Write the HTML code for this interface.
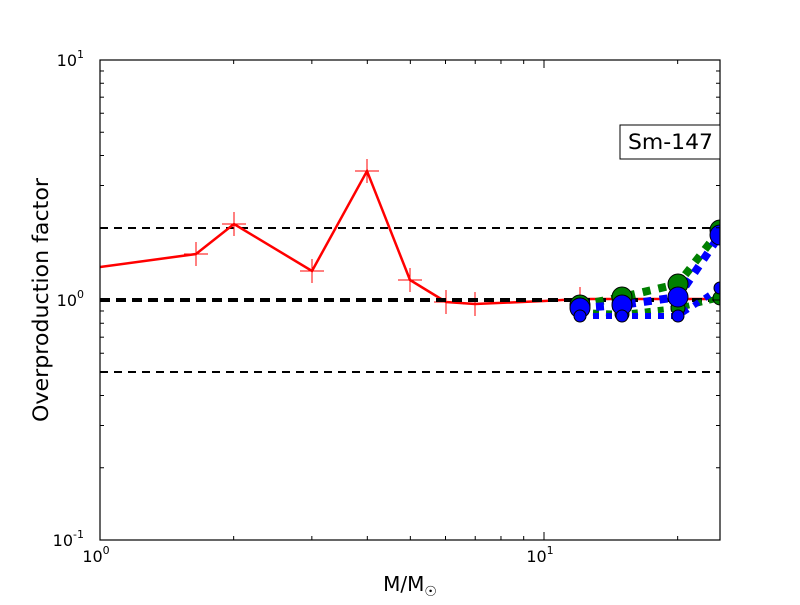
<!DOCTYPE html>
<html><head><meta charset="utf-8"><style>
body{margin:0;background:#fff;width:800px;height:600px;overflow:hidden}
text{font-family:"DejaVu Sans","Liberation Sans",sans-serif}
</style></head><body>
<svg id="s" width="800" height="600" xmlns="http://www.w3.org/2000/svg">
<defs><clipPath id="c"><rect x="100" y="60" width="620" height="480"/></clipPath></defs>
<rect width="800" height="600" fill="#fff"/>
<g clip-path="url(#c)">
<line x1="100" y1="228" x2="720" y2="228" stroke="#000" stroke-width="2" stroke-dasharray="8,6"/>
<line x1="100" y1="372" x2="720" y2="372" stroke="#000" stroke-width="2" stroke-dasharray="8,6"/>
<polyline fill="none" stroke="red" stroke-width="2.5" points="100,267 196,254 234,224 312,271 367,171 410,280 446,302 475,304 544,301 580,299 622,299 678,299 720,299"/>
<g stroke="red" stroke-width="1">
<path d="M184,254h24M196,242v24 M222,224h24M234,212v24 M300,271h24M312,259v24 M355,171h24M367,159v24 M398,280h24M410,268v24 M434,302h24M446,290v24 M463,304h24M475,292v24 M568,299h24M580,287v24"/>
</g>
<line x1="100" y1="300" x2="720" y2="300" stroke="#000" stroke-width="4" stroke-dasharray="10,6"/>
<polyline fill="none" stroke="green" stroke-width="8" stroke-dasharray="8,8" points="580,305 622,297 678,284 720,230"/>
<polyline fill="none" stroke="green" stroke-width="6" stroke-dasharray="6,7" points="580,312 622,314 678,308 720,298"/>
<polyline fill="none" stroke="blue" stroke-width="8" stroke-dasharray="8,8" points="580,308 622,305 678,297 720,235"/>
<polyline fill="none" stroke="blue" stroke-width="6" stroke-dasharray="6,7" points="580,316 622,316 678,316 720,288"/>
<g stroke="#000" stroke-width="1">
<circle cx="580" cy="305" r="10" fill="green"/><circle cx="622" cy="297" r="10" fill="green"/><circle cx="678" cy="284" r="10" fill="green"/><circle cx="720" cy="230" r="10" fill="green"/>
<circle cx="580" cy="312" r="7" fill="green"/><circle cx="622" cy="314" r="7" fill="green"/><circle cx="678" cy="308" r="7" fill="green"/><circle cx="720" cy="298" r="7" fill="green"/>
<circle cx="580" cy="308" r="10" fill="blue"/><circle cx="622" cy="305" r="10" fill="blue"/><circle cx="678" cy="297" r="10" fill="blue"/><circle cx="720" cy="235" r="10" fill="blue"/>
<circle cx="580" cy="316" r="6" fill="blue"/><circle cx="622" cy="316" r="6" fill="blue"/><circle cx="678" cy="316" r="6" fill="blue"/><circle cx="720" cy="288" r="6" fill="blue"/>
</g>
</g>
<g id="ticks" stroke="#000" stroke-width="1"></g>
<rect x="100" y="60" width="620" height="480" fill="none" stroke="#000" stroke-width="1.2"/>
<rect x="620" y="125" width="100" height="34" fill="#fff" stroke="#000"/>
<text x="628" y="149" font-size="21" textLength="85" lengthAdjust="spacingAndGlyphs">Sm-147</text>
<text x="84" y="546" font-size="16" text-anchor="end">10<tspan font-size="11" dy="-8">-1</tspan></text>
<text x="84" y="306" font-size="16" text-anchor="end">10<tspan font-size="11" dy="-8">0</tspan></text>
<text x="84" y="66" font-size="16" text-anchor="end">10<tspan font-size="11" dy="-8">1</tspan></text>
<text x="96" y="562" font-size="16" text-anchor="middle">10<tspan font-size="11" dy="-8">0</tspan></text>
<text x="540" y="562" font-size="16" text-anchor="middle">10<tspan font-size="11" dy="-8">1</tspan></text>
<text x="410" y="591" font-size="20" text-anchor="middle">M/M<tspan font-size="14" dy="5">☉</tspan></text>
<text transform="translate(48,422) rotate(-90)" font-size="21" textLength="244" lengthAdjust="spacingAndGlyphs">Overproduction factor</text>
</svg>
<script>
var g=document.getElementById('ticks'),h='';
function L(a,b,c,d){h+='<line x1="'+a+'" y1="'+b+'" x2="'+c+'" y2="'+d+'"/>';}
for(var d=-1;d<=1;d++)for(var k=1;k<=9;k++){var v=k*Math.pow(10,d);var y=300-240*Math.log10(v);if(y<60-0.5||y>540.5)continue;var len=k==1?8:4;L(100,y,100+len,y);L(720,y,720-len,y);}
for(var d=0;d<=1;d++)for(var k=1;k<=9;k++){var v=k*Math.pow(10,d);var x=100+444*Math.log10(v);if(x>720.5)continue;var len=k==1?8:4;L(x,540,x,540-len);L(x,60,x,60+len);}
g.innerHTML=h;
</script>
</body></html>
